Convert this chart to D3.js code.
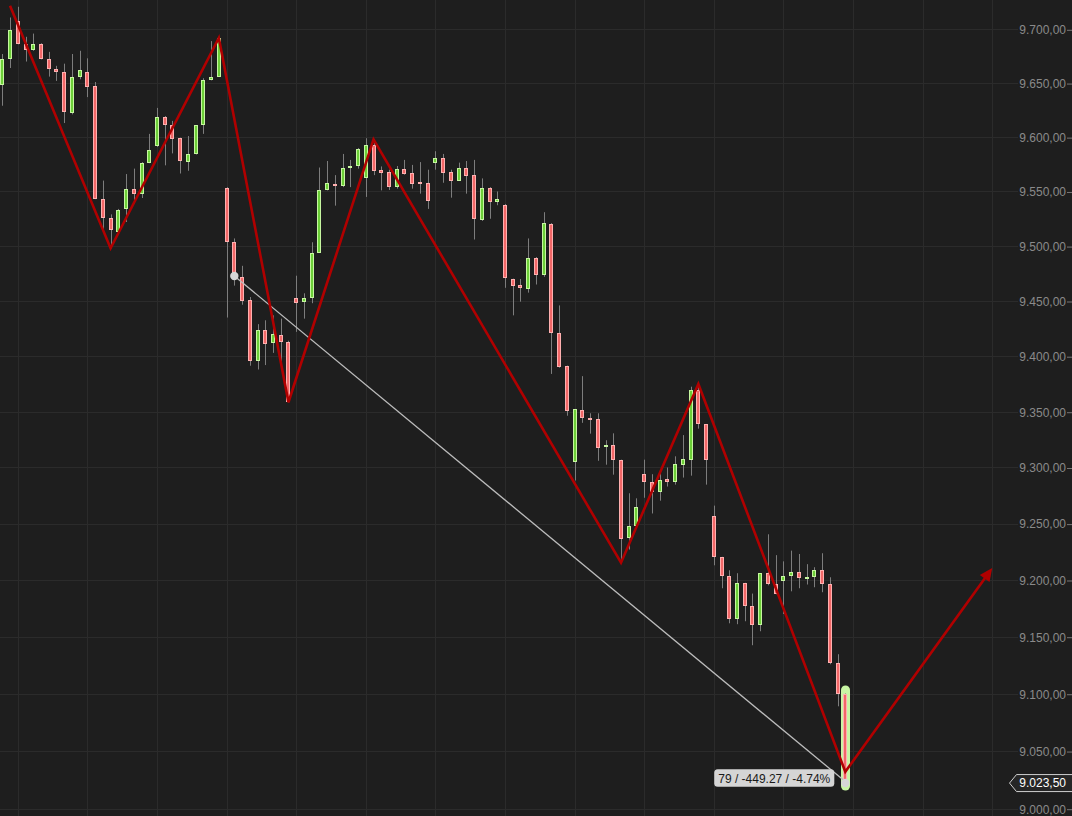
<!DOCTYPE html>
<html>
<head>
<meta charset="utf-8">
<script src="https://cdn.jsdelivr.net/npm/d3@7/dist/d3.min.js"></script>
<style>
  html, body { margin: 0; padding: 0; background: #1e1e1e; }
  svg { display: block; }
</style>
</head>
<body>
<script>
// ---------------- DATA ----------------
const opens = [9648,9672,9708,9686,9680.5,9686,9672,9663,9660,9622,9656,9660,9647,9543,9526,9512.6,9534,9552,9548,9576,
9592,9619,9611,9599,9577,9584,9611,9652.6,9656,9553,9503.5,9472,9450.6,9396,9424,9412,9419,9412.6,9453,9449,
9453,9494,9551,9556.6,9554.6,9572,9573,9562,9593,9569.5,9567.6,9554.4,9570.4,9566.7,9558.7,9557.5,9576.5,9580.5,9567.6,9560,
9571.3,9565,9524,9553,9540.7,9538,9470,9464.3,9461,9489,9474,9520,9420.7,9391,9304.7,9351.3,9344,9343,9318,9320,
9306.5,9237,9247.6,9294.5,9287,9278.4,9289.5,9287.3,9302.5,9307,9369.3,9338.7,9256.5,9220,9203.3,9165.3,9197,9176.8,9160,9206,
9196.2,9199,9203.3,9206.8,9201.2,9202.4,9208.6,9196.2,9126.7,9099.5];
const highs = [9677,9711,9721,9693,9696,9687,9679,9666,9668,9677,9680,9673,9651,9560,9529,9534,9566,9571,9577,9603,
9627,9619.5,9615,9599.5,9601,9611,9654.5,9689,9692,9554,9507,9482,9453.6,9429,9432.5,9437,9434,9414,9473,9457,
9503.5,9572,9578,9565,9584.5,9579,9590,9599,9598,9573,9570,9573.4,9579,9574.4,9577,9570,9587,9584.5,9570,9576.5,
9578,9579,9562,9554,9550,9538.5,9470.3,9470,9507,9490,9531,9521,9446,9391.5,9352.5,9382,9348.6,9348.6,9324.4,9330.6,
9307,9277,9272.5,9307,9294,9297,9300,9310,9329,9372.5,9375,9339,9266,9220.5,9208.6,9206,9197.5,9188,9206,9240.5,
9222,9216.5,9226,9223,9214,9211.3,9223.7,9202.4,9134.6,9100.2];
const lows = [9629,9664,9686,9670,9680,9672,9656,9652,9613,9621,9653.5,9637,9543,9513,9498,9512,9522,9539,9544,9576,
9591,9574,9585,9566.5,9569,9584,9603,9652.5,9656,9435,9464,9446.6,9391.4,9388,9392,9403,9389,9358.5,9422,9434,
9448,9494,9551,9537,9554,9554,9571,9545,9565,9551,9551.4,9552.6,9565.4,9552.6,9548,9534,9570,9558,9544.3,9560,
9548,9506,9523,9525,9537.4,9462,9437,9449.4,9457.6,9465,9472,9384,9389.6,9346.4,9288.4,9340,9330.3,9306,9302.5,9293.6,
9215.3,9227,9247.5,9273,9259,9270.4,9283,9284.7,9291,9292.7,9334.8,9284.7,9213,9192.7,9161.8,9161,9163.6,9142.5,9154.8,9195.3,
9187.4,9170,9190,9192.7,9196,9193.6,9189.2,9125.8,9089,9023.5];
const closes = [9672,9699,9686,9680.5,9686,9672,9663,9660,9623,9656,9662,9646,9543,9526,9514.5,9533,9552,9548,9576,9588,
9619,9611,9598,9578,9584,9611,9652.6,9656,9691.6,9503.5,9472.77,9450.3,9396,9424,9411,9420,9412.6,9358.5,9448,9453,
9494,9551,9557.5,9554.8,9572,9573.4,9589,9592.5,9569,9567.3,9554.4,9570.4,9566.4,9557.2,9557.2,9541.6,9580.5,9567.3,9560,9571.3,
9564.5,9525,9553,9540.7,9543,9470.5,9464,9461.4,9489,9474,9521,9421,9390.7,9350.4,9352.2,9344,9342.8,9317,9320,9306.5,
9236,9247.6,9264.5,9287,9278.4,9289,9287.3,9303,9307.3,9369.3,9338.7,9307,9220,9203.3,9165.3,9197,9176.8,9160,9206,9196.2,
9187.4,9203.3,9206.8,9201.5,9202.4,9208.6,9196.2,9126.7,9099.5,9023.5];

// zigzag pivots: bar index and price (last one is the projected arrow tip)
const zigzagIndex = [1, 14, 28, 37, 48, 80, 90, 109, 128];
const zigzagPrice = [9722, 9498, 9691.9, 9358.5, 9598, 9215.3, 9375, 9032, 9210.6];

// measurement tool: from bar 30 close to bar 109 close
const measureIndex = [30, 109];
const measurePrice = [9472.77, 9023.5];

// y-axis ticks
const yTicks = [9000, 9050, 9100, 9150, 9200, 9250, 9300, 9350, 9400, 9450, 9500, 9550, 9600, 9650, 9700];
const lastPrice = 9023.5;

// ---------------- CHART ----------------
const W = 1072, H = 816;
const BG = "#1e1e1e";
const svg = d3.select("body").append("svg").attr("width", W).attr("height", H)
  .style("background", BG);
svg.append("rect").attr("width", W).attr("height", H).attr("fill", BG);

const x = d3.scaleLinear().domain([0, 109]).range([2.3, 845.3]);
const y = d3.scaleLog().domain([9000, 9700]).range([808.7, 29.3]);

const deLocale = d3.formatLocale({decimal: ",", thousands: ".", grouping: [3], currency: ["", ""]});
const fmt = deLocale.format(",.2f");

// grid
const gridColor = "#2b2b2b";
const vIdx = d3.range(2, 129, 9);
svg.append("g").selectAll("line").data(vIdx).join("line")
  .attr("x1", d => Math.round(x(d)) + 0.5).attr("x2", d => Math.round(x(d)) + 0.5)
  .attr("y1", 0).attr("y2", H)
  .attr("stroke", gridColor).attr("stroke-width", 1);
svg.append("g").selectAll("line").data(yTicks).join("line")
  .attr("x1", 0).attr("x2", 1018)
  .attr("y1", d => Math.round(y(d)) + 0.5).attr("y2", d => Math.round(y(d)) + 0.5)
  .attr("stroke", gridColor).attr("stroke-width", 1);

// axis
const axis = d3.axisLeft(y).tickValues(yTicks).tickFormat(fmt).tickSizeInner(5).tickSizeOuter(0).tickPadding(1);
const ag = svg.append("g").attr("transform", `translate(${W},0.5)`).call(axis);
ag.select(".domain").remove();
ag.selectAll("line").attr("stroke", "#777");
ag.selectAll("text").attr("fill", "#8a8a8a").style("font-family", "'Liberation Sans', Arial, sans-serif")
  .style("font-size", "12px");

// candles
const bars = d3.range(opens.length).map(i => ({i, o: opens[i], h: highs[i], l: lows[i], c: closes[i]}));
const lastI = bars.length - 1;

// highlight on last bar
{
  const b = bars[lastI];
  const cx = Math.round(x(b.i));
  const top = y(b.h) - 8, bot = y(b.l) + 9;
  svg.append("rect").attr("x", cx - 4).attr("y", top).attr("width", 9).attr("height", bot - top)
    .attr("rx", 4.5).attr("fill", "#c8f5a4");
}

const cg = svg.append("g");
cg.selectAll("line.wick").data(bars).join("line").attr("class", "wick")
  .attr("x1", d => Math.round(x(d.i)) + 0.5).attr("x2", d => Math.round(x(d.i)) + 0.5)
  .attr("y1", d => y(d.h)).attr("y2", d => y(d.l))
  .attr("stroke", "#7d7d7d").attr("stroke-width", 1);
cg.selectAll("rect.body").data(bars).join("rect").attr("class", "body")
  .attr("x", d => Math.round(x(d.i)) - 1.5)
  .attr("width", 3)
  .attr("y", d => Math.round(y(Math.max(d.o, d.c))) + 0.5)
  .attr("height", d => Math.max(1, Math.round(y(Math.min(d.o, d.c))) - Math.round(y(Math.max(d.o, d.c))) - 1))
  .attr("fill", d => d.c >= d.o ? "#6ccf38" : "#f26868")
  .attr("stroke", d => d.c >= d.o ? "#c6f6a0" : "#ffb0b0")
  .attr("stroke-width", 1);

// measurement line
const mx0 = x(measureIndex[0]), my0 = y(measurePrice[0]);
const mx1 = x(measureIndex[1]), my1 = y(measurePrice[1]);
svg.append("line").attr("x1", mx0).attr("y1", my0).attr("x2", mx1).attr("y2", my1)
  .attr("stroke", "#bdbdbd").attr("stroke-width", 1.3);

// zigzag
const zz = zigzagIndex.map((d, k) => [x(d), y(zigzagPrice[k])]);
const zzColor = "#b00000";
const last = zz[zz.length - 1], prev = zz[zz.length - 2];
const ang = Math.atan2(last[1] - prev[1], last[0] - prev[0]);
const aLen = 13, aHalf = 6;
const baseX = last[0] - aLen * Math.cos(ang), baseY = last[1] - aLen * Math.sin(ang);
const zzPts = zz.slice(0, -1).concat([[baseX + 2 * Math.cos(ang), baseY + 2 * Math.sin(ang)]]);
svg.append("path").attr("d", d3.line()(zzPts)).attr("fill", "none")
  .attr("stroke", zzColor).attr("stroke-width", 2.6).attr("stroke-linejoin", "miter");
svg.append("path").attr("d", d3.line()([
  last,
  [baseX + aHalf * Math.sin(ang), baseY - aHalf * Math.cos(ang)],
  [baseX - aHalf * Math.sin(ang), baseY + aHalf * Math.cos(ang)]
]) + "Z").attr("fill", zzColor);

// measurement dots
svg.append("circle").attr("cx", mx0).attr("cy", my0).attr("r", 4.2).attr("fill", "#d6d6d6");
svg.append("circle").attr("cx", mx1).attr("cy", my1 + 1.5).attr("r", 4.2).attr("fill", "#d6d6d6");

// measurement label
const nBars = measureIndex[1] - measureIndex[0];
const diff = measurePrice[1] - measurePrice[0];
const pct = diff / measurePrice[0] * 100;
const labelText = `${nBars} / ${diff.toFixed(2)} / ${pct.toFixed(2)}%`;
const lg = svg.append("g");
const lt = lg.append("text").attr("x", 0).attr("y", 0).text(labelText)
  .style("font-family", "'Liberation Sans', Arial, sans-serif").style("font-size", "12px")
  .attr("fill", "#1a1a1a").attr("text-anchor", "middle").attr("dominant-baseline", "central");
const tw = lt.node().getComputedTextLength();
const boxW = tw + 8, boxH = 17.5;
const boxRight = mx1 - 11, boxCy = my1 - 3.5;
lg.insert("rect", "text").attr("x", boxRight - boxW).attr("y", boxCy - boxH / 2).attr("width", boxW).attr("height", boxH)
  .attr("rx", 3.5).attr("fill", "#d5d5d5");
lt.attr("x", boxRight - boxW / 2).attr("y", boxCy + 0.5);

// last price flag
const py = y(lastPrice) + 1.5;
const fg = svg.append("g");
fg.append("path").attr("d", `M1009.5,${py} L1016.5,${py - 8.5} L1073,${py - 8.5} L1073,${py + 8.5} L1016.5,${py + 8.5} Z`)
  .attr("fill", "#262626").attr("stroke", "#cfcfcf").attr("stroke-width", 1);
fg.append("text").attr("x", 1066).attr("y", py).attr("text-anchor", "end").attr("dominant-baseline", "central")
  .style("font-family", "'Liberation Sans', Arial, sans-serif").style("font-size", "12px")
  .attr("fill", "#ffffff").text(fmt(lastPrice));
</script>
</body>
</html>
